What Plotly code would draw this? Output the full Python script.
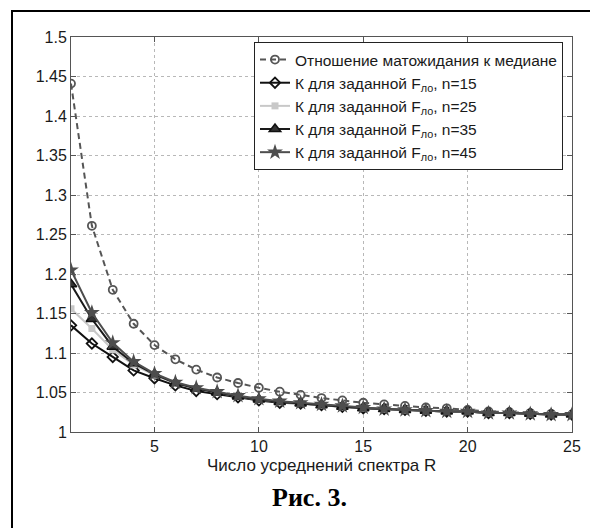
import plotly.graph_objects as go

R = list(range(1, 26))
ratio_mean_median = [1.441, 1.261, 1.180, 1.137, 1.110, 1.092, 1.079, 1.069, 1.062, 1.056,
                     1.051, 1.047, 1.043, 1.040, 1.037, 1.035, 1.033, 1.031, 1.030, 1.028,
                     1.026, 1.025, 1.024, 1.023, 1.022]
k_n15 = [1.135, 1.112, 1.095, 1.078, 1.068, 1.059, 1.052, 1.048, 1.044, 1.040,
         1.037, 1.036, 1.034, 1.032, 1.030, 1.029, 1.028, 1.027, 1.026, 1.026,
         1.024, 1.024, 1.023, 1.022, 1.022]
k_n25 = [1.156, 1.131, 1.104, 1.085, 1.072, 1.062, 1.055, 1.050, 1.045, 1.041,
         1.038, 1.036, 1.034, 1.032, 1.030, 1.029, 1.028, 1.027, 1.026, 1.026,
         1.024, 1.024, 1.023, 1.022, 1.022]
k_n35 = [1.187, 1.143, 1.108, 1.087, 1.073, 1.062, 1.055, 1.050, 1.045, 1.041,
         1.038, 1.036, 1.034, 1.032, 1.030, 1.029, 1.028, 1.027, 1.026, 1.026,
         1.024, 1.024, 1.023, 1.022, 1.022]
k_n45 = [1.205, 1.151, 1.113, 1.089, 1.074, 1.063, 1.056, 1.051, 1.046, 1.042,
         1.039, 1.037, 1.035, 1.033, 1.031, 1.029, 1.028, 1.027, 1.026, 1.026,
         1.024, 1.024, 1.023, 1.022, 1.022]

names = ["Отношение матожидания к медиане",
         "К для заданной F<sub>ло</sub>, n=15",
         "К для заданной F<sub>ло</sub>, n=25",
         "К для заданной F<sub>ло</sub>, n=35",
         "К для заданной F<sub>ло</sub>, n=45"]
x_ticks = [5, 10, 15, 20, 25]
y_ticks = [1, 1.05, 1.1, 1.15, 1.2, 1.25, 1.3, 1.35, 1.4, 1.45, 1.5]
y_tick_text = ["1", "1.05", "1.1", "1.15", "1.2", "1.25", "1.3", "1.35", "1.4", "1.45", "1.5"]

# page body has an 8px default margin; design in screenshot pixels, then shift
OFF = 8
W, H = 598 - OFF, 528 - OFF
L, T = 71 - OFF, 37 - OFF
pw, ph = 501, 395
Rm, B = W - L - pw, H - T - ph


def px_x(sx):
    return (sx - OFF - L) / pw


def px_y(sy):
    return (T + ph - (sy - OFF)) / ph


fig = go.Figure()
fig.add_trace(go.Scatter(x=R, y=ratio_mean_median, name=names[0], mode="lines+markers",
                         line=dict(color="#555555", width=2, dash="6px,4px"),
                         marker=dict(symbol="circle-open", size=8, color="#555555",
                                     line=dict(width=1.8, color="#555555"))))
fig.add_trace(go.Scatter(x=R, y=k_n15, name=names[1], mode="lines+markers",
                         line=dict(color="#111111", width=2),
                         marker=dict(symbol="diamond-open", size=8, color="#111111",
                                     line=dict(width=1.8, color="#111111"))))
fig.add_trace(go.Scatter(x=R, y=k_n25, name=names[2], mode="lines+markers",
                         line=dict(color="#c8c8c8", width=2),
                         marker=dict(symbol="square", size=7, color="#c8c8c8")))
fig.add_trace(go.Scatter(x=R, y=k_n35, name=names[3], mode="lines+markers",
                         line=dict(color="#1a1a1a", width=2),
                         marker=dict(symbol="triangle-up", size=10, color="#333333",
                                     line=dict(width=1.5, color="#111111"))))
fig.add_trace(go.Scatter(x=R, y=k_n45, name=names[4], mode="lines+markers",
                         line=dict(color="#4d4d4d", width=2),
                         marker=dict(symbol="star", size=12, color="#4d4d4d")))

axis_common = dict(showline=True, linecolor="#555555", linewidth=1, mirror="ticks",
                   ticks="inside", ticklen=5, tickcolor="#555555",
                   showgrid=True, gridcolor="#b8b8b8", gridwidth=1, griddash="3px,3px",
                   zeroline=False,
                   tickfont=dict(family="Liberation Sans, Arial", size=16, color="#1a1a1a"))

fig.update_xaxes(range=[1, 25], tickvals=x_ticks, **axis_common)
fig.update_yaxes(range=[1, 1.5], tickvals=y_ticks, ticktext=y_tick_text, **axis_common)

fig.update_layout(
    width=W, height=H,
    margin=dict(l=L, r=Rm, t=T, b=B, autoexpand=False),
    paper_bgcolor="white", plot_bgcolor="white",
    font=dict(family="Liberation Sans, Arial", size=14, color="#1a1a1a"),
    legend=dict(x=px_x(563), xanchor="right", y=px_y(42), yanchor="top",
                bgcolor="white", bordercolor="#222222", borderwidth=1,
                font=dict(family="Liberation Sans, Arial", size=15.5, color="#1a1a1a"),
                tracegroupgap=0, itemwidth=30),
    showlegend=True,
    annotations=[
        dict(text="Число усреднений спектра R", xref="paper", yref="paper",
             x=0.5, y=px_y(465), xanchor="center", yanchor="middle",
             showarrow=False, font=dict(family="Liberation Sans, Arial", size=17, color="#1a1a1a")),
        dict(text="<b>Рис. 3.</b>", xref="paper", yref="paper",
             x=px_x(309), y=px_y(497), xanchor="center", yanchor="middle",
             showarrow=False, font=dict(family="Liberation Serif, Times New Roman", size=26, color="black")),
    ],
    shapes=[
        dict(type="rect", xref="paper", yref="paper",
             x0=px_x(12), x1=px_x(620),
             y0=px_y(560), y1=px_y(11),
             line=dict(color="black", width=2), fillcolor="rgba(0,0,0,0)", layer="below"),
    ],
)

fig.write_html("out.html")
